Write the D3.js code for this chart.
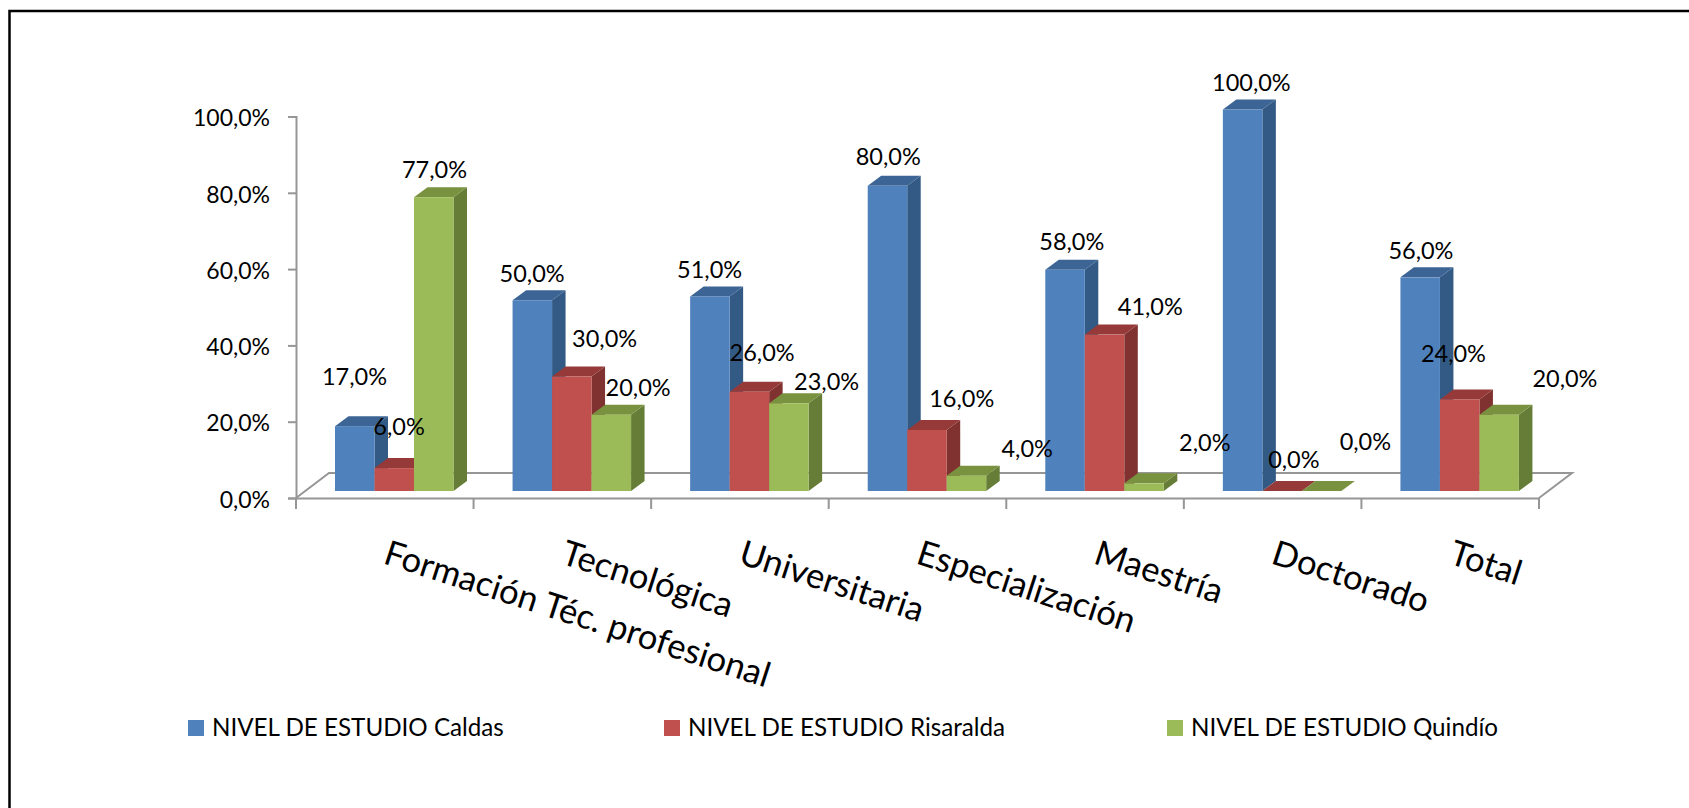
<!DOCTYPE html>
<html>
<head>
<meta charset="utf-8">
<script src="https://cdn.jsdelivr.net/npm/d3@7"></script>
<style>
  html, body { margin: 0; padding: 0; background: #fff; overflow: hidden; }
  text { font-family: Lato, 'Open Sans', sans-serif; fill: #000; }
</style>
</head>
<body>
<div id="chart"></div>
<script>
const categories = ['Formación Téc. profesional', 'Tecnológica', 'Universitaria', 'Especialización', 'Maestría', 'Doctorado', 'Total']
const seriesNames = ['NIVEL DE ESTUDIO Caldas', 'NIVEL DE ESTUDIO Risaralda', 'NIVEL DE ESTUDIO Quindío']
const caldas = [17, 50, 51, 80, 58, 100, 56]
const risaralda = [6, 30, 26, 16, 41, 0, 24]
const quindio = [77, 20, 23, 4, 2, 0, 20]
const yTicks = [0, 20, 40, 60, 80, 100]

// hand placed labels in the original, [dx, dy] from the default spot above the bar
const labelNudge = [
  [[-7, -27], [-7, -4], [-7, -5], [-6, -7], [0, -6], [2, -5], [-6, -5]],
  [[-2, -19], [26, -16], [6, -17], [28, -9], [39, -6], [5, -9], [-13, -24]],
  [[-6, -5], [20, -5], [31, 1], [54, -5], [54, -19], [37, -27], [59, -14]]
]

const width = 1689
const height = 808
const depthX = 13.5
const depthY = 10
const floorDrop = 7 // front edge of the bars sits above the axis line

const colors = [
  { front: '#4f81bd', top: '#3c6494', side: '#335a85' },
  { front: '#c0504d', top: '#953a38', side: '#7f322f' },
  { front: '#9bbb59', top: '#79923f', side: '#667d38' }
]

const svg = d3.select('#chart').append('svg')
  .attr('width', width)
  .attr('height', height)

// frame, only the left and top edges are inside the picture
svg.append('path')
  .attr('d', d3.line()([[9.5, height], [9.5, 11], [width, 11]]))
  .attr('fill', 'none')
  .attr('stroke', '#000')
  .attr('stroke-width', 2.5)

const x = d3.scaleBand().domain(categories).range([296, 1539])
const y = d3.scaleLinear().domain([0, 100]).range([498, 116.5])
const barX = d3.scaleBand().domain(d3.range(3)).range([39, 157.5])

// floor
const floorColor = '#969696'
const floorBack = y(0) - 25
const floorDepth = 33
svg.append('path')
  .attr('d', d3.line()([
    [x.range()[0], y(0)],
    [x.range()[0] + floorDepth, floorBack],
    [x.range()[1] + floorDepth, floorBack],
    [x.range()[1], y(0)]
  ]))
  .attr('fill', 'none')
  .attr('stroke', floorColor)
  .attr('stroke-width', 2)

// axes
const yAxis = d3.axisLeft(y)
  .tickValues(yTicks)
  .tickSize(8)
  .tickPadding(18)
  .tickFormat(d => d.toFixed(1).replace('.', ',') + '%')
const gy = svg.append('g').attr('transform', 'translate(' + x.range()[0] + ',0)').call(yAxis)

const xAxis = d3.axisBottom(x).tickValues([]).tickSize(0)
const gx = svg.append('g').attr('transform', 'translate(0,' + y(0) + ')').call(xAxis)

svg.selectAll('.domain').attr('stroke', floorColor).attr('stroke-width', 2)
svg.selectAll('.tick line').attr('stroke', floorColor).attr('stroke-width', 2)
gy.selectAll('.tick text').attr('font-size', 23).attr('dy', '0.4em')

// ticks between categories
svg.append('g').selectAll('line')
  .data(categories.concat(['end']))
  .enter()
  .append('line')
  .attr('x1', (d, i) => x.range()[0] + i * x.step())
  .attr('x2', (d, i) => x.range()[0] + i * x.step())
  .attr('y1', y(0))
  .attr('y2', y(0) + 11)
  .attr('stroke', floorColor)
  .attr('stroke-width', 2)

// bars, each one a front, a top and a side face
const allSeries = [caldas, risaralda, quindio]
const bars = svg.append('g')
const baseY = y(0) - floorDrop

allSeries.forEach((values, s) => {
  const g = bars.append('g').attr('class', 'series-' + s)
  values.forEach((v, i) => {
    const x0 = x(categories[i]) + barX(s)
    const x1 = x0 + barX.bandwidth()
    const top = y(v) - floorDrop
    g.append('path')
      .attr('d', d3.line()([[x1, top], [x1 + depthX, top - depthY], [x1 + depthX, baseY - depthY], [x1, baseY]]) + 'Z')
      .attr('fill', colors[s].side)
    g.append('path')
      .attr('d', d3.line()([[x0, top], [x0 + depthX, top - depthY], [x1 + depthX, top - depthY], [x1, top]]) + 'Z')
      .attr('fill', colors[s].top)
    g.append('rect')
      .attr('x', x0).attr('y', top)
      .attr('width', barX.bandwidth())
      .attr('height', baseY - top)
      .attr('fill', colors[s].front)
  })
})

// value labels
allSeries.forEach((values, s) => {
  svg.append('g').selectAll('text')
    .data(values)
    .enter()
    .append('text')
    .attr('x', (d, i) => x(categories[i]) + barX(s) + barX.bandwidth() / 2 + depthX / 2 + labelNudge[s][i][0])
    .attr('y', (d, i) => y(d) - floorDrop - depthY - 12 + labelNudge[s][i][1])
    .attr('dy', '0.35em')
    .attr('text-anchor', 'middle')
    .attr('font-size', 23.5)
    .text(d => d.toFixed(1).replace('.', ',') + '%')
})

// slanted category labels, start of the text at the top left
svg.append('g').selectAll('text')
  .data(categories)
  .enter()
  .append('text')
  .attr('transform', d => 'translate(' + (x(d) + 86) + ',' + (y(0) + 65) + ') rotate(18)')
  .attr('font-size', 34.6)
  .text(d => d)

// legend
const legendX = [188, 664, 1167]
const legend = svg.append('g').selectAll('g')
  .data(seriesNames)
  .enter()
  .append('g')
  .attr('transform', (d, i) => 'translate(' + legendX[i] + ',720)')
legend.append('rect')
  .attr('width', 16).attr('height', 16)
  .attr('fill', (d, i) => colors[i].front)
legend.append('text')
  .attr('x', 24).attr('y', 8)
  .attr('dy', '0.35em')
  .attr('font-size', 24.2)
  .text(d => d)
</script>
</body>
</html>
